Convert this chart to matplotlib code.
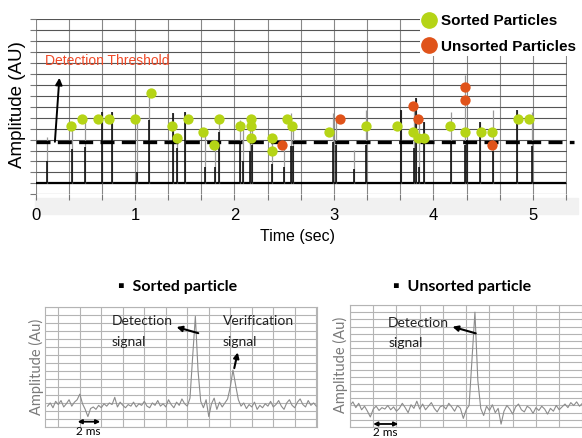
import numpy as np
import matplotlib
matplotlib.use('agg')
import matplotlib.pyplot as plt
from matplotlib.lines import Line2D
from matplotlib.patches import Rectangle

# ---- data: top panel (time in s, amplitude in grid units) ----
baseline_level = 1.0
threshold_level = 4.8

spike_t = [0.12, 0.37, 0.50, 0.665, 0.766, 1.017, 1.144, 1.385, 1.42, 1.50,
           1.70, 1.80, 1.84, 2.055, 2.09, 2.16, 2.18, 2.38, 2.50, 2.565,
           2.59, 2.99, 3.02, 3.20, 3.32, 3.67, 3.80, 3.82, 3.85, 3.90,
           4.18, 4.32, 4.34, 4.47, 4.60, 4.84, 4.99]
spike_black = [3.0, 4.1, 4.35, 7.55, 7.55, 2.0, 6.8, 7.4, 4.2, 7.55,
               2.5, 2.5, 5.7, 4.65, 3.0, 4.0, 4.5, 2.8, 2.5, 4.45,
               4.45, 4.8, 4.5, 2.3, 4.5, 7.7, 4.2, 8.8, 2.5, 6.6,
               4.8, 4.5, 5.0, 6.6, 4.0, 7.7, 4.4]
spike_gray = [5.2, 6.3, 6.9, 7.55, 7.55, 6.9, 9.2, 7.4, 5.2, 7.55,
              5.7, 4.5, 6.9, 6.8, 6.5, 6.9, 6.0, 5.2, 4.6, 7.4,
              6.5, 7.4, 7.1, 4.05, 7.7, 7.7, 7.9, 8.8, 6.9, 6.6,
              7.55, 10.9, 5.0, 6.6, 7.7, 7.7, 7.55]

sorted_t = [0.36, 0.47, 0.63, 0.735, 1.0, 1.16, 1.37, 1.42, 1.53, 1.687,
            1.79, 1.844, 2.055, 2.163, 2.163, 2.163, 2.374, 2.374, 2.528, 2.583,
            2.953, 3.32, 3.636, 3.794, 3.847, 3.90, 4.166, 4.32, 4.48, 4.588,
            4.852, 4.957]
sorted_y = [6.27, 6.88, 6.88, 6.88, 6.88, 9.23, 6.27, 5.15, 6.88, 5.69,
            4.5, 6.88, 6.27, 6.88, 6.27, 5.15, 5.15, 3.93, 6.88, 6.27,
            5.69, 6.27, 6.27, 5.69, 5.15, 5.15, 6.27, 5.69, 5.69, 5.69,
            6.88, 6.88]
unsorted_t = [2.477, 3.06, 3.794, 3.847, 4.32, 4.32, 4.588]
unsorted_y = [4.5, 6.88, 8.07, 6.88, 9.81, 8.65, 4.5]

time_ticks = ['0', '1', '2', '3', '4', '5']

# ---- data: bottom panels (time in ms, amplitude in grid units) ----
sorted_trace = [2.6, 3.0, 2.4, 3.2, 2.8, 3.3, 2.5, 2.9, 3.4,
                2.6, 3.1, 3.4, 4.1, 2.9, 2.2, 1.3, 2.3,
                2.5, 2.2, 2.7, 2.4, 2.9, 2.6, 3.0, 2.8, 3.7, 2.5, 3.1, 2.7,
                2.4, 2.8, 2.6, 3.1, 2.5, 2.9, 2.7, 3.2, 2.6, 2.4, 3.0, 2.7,
                3.3, 2.6, 2.9, 2.5, 3.4, 2.8, 2.4, 3.1, 2.7, 3.5, 2.9, 2.6,
                3.6, 8.8, 13.8, 7.0, 3.2, 2.4,
                3.4, 1.3, 2.9, 3.6, 2.2, 3.1, 2.5, 3.0,
                3.5, 5.0, 7.1, 5.2, 3.4, 2.6, 3.0,
                2.3, 2.8, 2.5, 3.1, 2.2, 2.7, 2.4, 2.9, 2.6, 3.2, 2.5,
                2.8, 3.3, 2.6, 2.2, 3.0, 3.4, 2.7, 2.4, 3.1, 3.5, 2.8, 2.5,
                3.3, 2.7, 3.0, 2.6]
sorted_ms = np.arange(len(sorted_trace)) * 0.25 - 1.0

unsorted_trace = [3.0, 3.5, 2.7, 3.3, 2.4, 2.9, 2.2, 1.4, 2.5,
                  2.9, 2.3, 2.7, 2.5, 3.0, 2.4, 2.8, 2.2, 2.6, 3.3, 2.7, 2.0,
                  3.1, 2.6, 3.6, 2.5, 3.2, 2.4, 2.9, 3.4, 2.6, 2.1, 2.8, 3.0,
                  2.5, 3.3, 2.8, 2.2, 3.0, 2.6, 1.2, 2.4,
                  3.0, 9.5, 16.0, 6.5, 2.6,
                  1.6, 2.9, 2.3, 3.1, 2.0, 2.6, 0.4,
                  2.2, 3.0, 2.5, 1.8, 2.8, 3.2, 2.4, 2.1, 2.9, 2.6, 1.9, 2.7,
                  2.3, 2.9, 2.5, 1.8, 2.6, 2.2, 3.0, 2.4, 2.8, 3.2, 2.7, 3.4,
                  3.0, 3.5, 2.9, 3.3]
unsorted_ms = np.arange(len(unsorted_trace)) * 0.25

green = '#b5d416'
orange = '#e0531a'

W, H = 582, 438
fig = plt.figure(figsize=(W / 100, H / 100), dpi=100)


def fx(px):
    return px / W


def fy(py):
    return 1 - py / H


def box(l, t, r, b):
    return [fx(l), fy(b), fx(r) - fx(l), fy(t) - fy(b)]


arial = ['Liberation Sans', 'DejaVu Sans']
cal = ['Lato', 'DejaVu Sans']

# light band behind the time tick labels
fig.add_artist(Rectangle((fx(35), fy(214)), fx(578) - fx(35), fy(198) - fy(214),
                         transform=fig.transFigure, color='#f1f1f1', zorder=0))

# ================= top panel =================
ax = fig.add_axes(box(35.5, 19.3, 567.3, 194.3))
ax.patch.set_alpha(0)
ax.set_xlim(0, 5.345)
ax.set_ylim(0, 16)
xt = [i / 3 for i in range(17)]
ax.set_xticks(xt)
ax.set_xticklabels([time_ticks[i // 3] if i % 3 == 0 else '' for i in range(17)],
                   family=arial, fontsize=12)
ax.set_yticks(range(17))
ax.set_yticklabels([])
ax.tick_params(axis='both', length=4, color='#777', pad=6)
ax.grid(axis='y', color='#555', lw=0.8)
ax.grid(axis='x', color='#888', lw=0.8)
for s in ax.spines.values():
    s.set_visible(False)
ax.set_axisbelow(True)

ax.plot([0, 5.32], [baseline_level, baseline_level], color='black', lw=1.6)
ax.vlines(spike_t, baseline_level, spike_gray, color='#9a9a9a', lw=0.9)
ax.vlines(spike_t, baseline_level, spike_black, color='black', lw=1.1)
ax.plot([0, 5.41], [threshold_level, threshold_level], color='black', lw=2.4,
        dashes=(4.2, 2.2), clip_on=False)
ax.scatter(sorted_t, sorted_y, s=55, color=green, zorder=4, linewidths=0)
ax.scatter(unsorted_t, unsorted_y, s=55, color=orange, zorder=4, linewidths=0)

ax.annotate('', xy=(0.24, 10.65), xytext=(0.195, threshold_level),
            arrowprops=dict(arrowstyle='-|>', color='black', lw=1.4,
                            mutation_scale=10, shrinkA=0, shrinkB=0))
fig.text(fx(45), fy(61), 'Detection Threshold', color='#f04a28',
         family=arial, fontsize=10, va='center', ha='left')
fig.text(fx(18), fy(105), 'Amplitude (AU)', rotation=90, family=arial,
         fontsize=13.5, va='center', ha='center')
fig.text(fx(298), fy(236), 'Time (sec)', family=arial, fontsize=11.5,
         va='center', ha='center')

handles = [Line2D([], [], marker='o', ls='', color=green, ms=11),
           Line2D([], [], marker='o', ls='', color=orange, ms=11)]
leg = ax.legend(handles, ['Sorted Particles', 'Unsorted Particles'],
                loc='upper left', bbox_to_anchor=(fx(420), fy(12)),
                bbox_transform=fig.transFigure, frameon=True, facecolor='white',
                edgecolor='none', framealpha=1, handlelength=0.9,
                handletextpad=0.3, labelspacing=0.75, borderpad=0.15,
                borderaxespad=0, prop=dict(family=arial, weight='bold', size=11))

# ================= bottom panels =================
def trace_panel(rect, xlim, nrows, ms, vals):
    a = fig.add_axes(rect)
    a.set_xlim(*xlim)
    a.set_ylim(0, nrows)
    a.set_xticks(np.arange(0, xlim[1] + 0.01, 2))
    a.set_yticks(range(nrows + 1))
    a.tick_params(length=0, labelbottom=False, labelleft=False)
    a.grid(color='#b4b4b4', lw=0.8)
    for s in a.spines.values():
        s.set_color('#b4b4b4')
        s.set_linewidth(0.8)
    a.set_axisbelow(True)
    a.plot(ms, vals, color='#8c8c8c', lw=0.8)
    return a


axl = trace_panel(box(45, 306.7, 316.7, 427), (-1.24, 24.04), 15, sorted_ms, sorted_trace)
axr = trace_panel(box(350, 305, 583, 427), (0, 20.05), 17, unsorted_ms, unsorted_trace)

fig.text(fx(178), fy(287), '\u25aa  Sorted particle', family=cal, weight='bold',
         fontsize=11.5, ha='center', va='center')
fig.text(fx(461.7), fy(287), '\u25aa  Unsorted particle', family=cal, weight='bold',
         fontsize=11.5, ha='center', va='center')
fig.text(fx(36), fy(367), 'Amplitude (Au)', rotation=90, family=cal, color='#7a7a7a',
         fontsize=10.5, ha='center', va='center')
fig.text(fx(340.7), fy(365), 'Amplitude (Au)', rotation=90, family=cal, color='#7a7a7a',
         fontsize=10.5, ha='center', va='center')

tkw = dict(family=cal, fontsize=10, color='#222', va='center', ha='left')
axl.text(4.97, 13.16, 'Detection', **tkw)
axl.text(4.97, 10.66, 'signal', **tkw)
axl.text(15.29, 13.16, 'Verification', **tkw)
axl.text(15.29, 10.66, 'signal', **tkw)
axr.text(3.29, 14.44, 'Detection', **tkw)
axr.text(3.29, 11.74, 'signal', **tkw)

akw = dict(arrowstyle='-|>', color='black', lw=1.5, mutation_scale=8,
           shrinkA=0, shrinkB=0)
axl.annotate('', xy=(11.0, 12.46), xytext=(13.02, 11.7), arrowprops=akw)
axl.annotate('', xy=(16.69, 9.3), xytext=(16.37, 7.34), arrowprops=akw)
axr.annotate('', xy=(8.82, 13.97), xytext=(10.82, 13.05), arrowprops=akw)

dkw = dict(arrowstyle='<|-|>', color='black', lw=1.3, mutation_scale=6,
           shrinkA=0, shrinkB=0)
axl.annotate('', xy=(1.8, 0.66), xytext=(3.9, 0.66), arrowprops=dkw)
axr.annotate('', xy=(2.0, 0.42), xytext=(4.15, 0.42), arrowprops=dkw)
fig.text(fx(88), fy(437), '2 ms', family=cal, fontsize=8.5, ha='center', va='bottom')
fig.text(fx(385), fy(437.5), '2 ms', family=cal, fontsize=8.5, ha='center', va='bottom')

fig.savefig('out.png', dpi=100)
